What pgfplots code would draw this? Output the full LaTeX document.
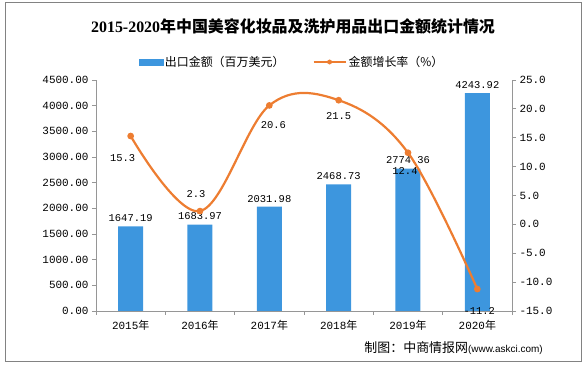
\documentclass[border=0pt]{standalone}
\usepackage{pgfplots}
\pgfplotsset{compat=1.18}
\usepackage{fontspec}
\setmainfont{Liberation Mono}
\newfontfamily\cjk{Noto Sans CJK SC}
\newfontfamily\sans{Liberation Sans}
\newfontfamily\serif{Liberation Serif}
\definecolor{barblue}{RGB}{61,150,222}
\definecolor{lineorange}{RGB}{237,125,49}
\definecolor{axgray}{RGB}{150,150,150}
\definecolor{bordergray}{RGB}{130,130,130}
\pgfkeys{/pgf/number format/assume math mode=true}

\pgfplotstableread{
x y dx dy
0 15.3 -8 -22
1 2.3 -4 17
2 20.6 4 -20
3 21.5 0 -16
4 12.4 -3 -18
5 -11.2 2 -22
}\ratedata

\begin{document}
\begin{tikzpicture}
\path (0bp,0bp) rectangle (587bp,369bp);
\draw[bordergray, line width=1bp] (5bp,7bp) rectangle (581bp,366bp);
\node[font=\fontsize{16}{19}\selectfont\bfseries] at (293bp,343bp) {{\serif 2015-2020}{\cjk 年中国美容化妆品及洗护用品出口金额统计情况}};
\node[anchor=east, inner sep=0pt] at (543bp,21bp) {{\cjk\fontsize{13}{15}\selectfont 制图：中商情报网}{\sans\fontsize{10}{12}\selectfont(www.askci.com)}};
\begin{axis}[
  at={(96bp,58bp)}, anchor=south west, scale only axis,
  width=416bp, height=231bp,
  xmin=-0.5, xmax=5.5, ymin=0, ymax=4500,
  axis x line*=bottom, axis y line*=left,
  axis line style={axgray, line width=0.8bp, -},
  tick style={axgray, line width=0.8bp},
  tick align=outside, major tick length=4bp,
  xtick={-0.5,0.5,...,5.5},
  xticklabels={{2015{\cjk 年}},{2016{\cjk 年}},{2017{\cjk 年}},{2018{\cjk 年}},{2019{\cjk 年}},{2020{\cjk 年}},{}},
  xticklabel style={xshift=34.67bp, yshift=-2bp, font=\fontsize{11}{13}\selectfont},
  ytick={0,500,...,4500},
  yticklabel style={font=\fontsize{11}{13}\selectfont, /pgf/number format/.cd, fixed, fixed zerofill, precision=2, 1000 sep={}},
  scaled y ticks=false,
  legend style={at={(0.471,1.078)}, anchor=center, draw=none, fill=none, legend columns=2,
    font=\fontsize{12}{14}\selectfont, /tikz/every even column/.append style={column sep=26bp}},
]
\addplot[ybar, bar width=25bp, fill=barblue, draw=none, forget plot,
  nodes near coords={\pgfmathprintnumber[fixed,fixed zerofill,precision=2,1000 sep={}]{\pgfplotspointmeta}},
  every node near coord/.append style={font=\fontsize{10.5}{12}\selectfont, text=black, anchor=south, yshift=1bp}]
  coordinates {(0,1647.19) (1,1683.97) (2,2031.98) (3,2468.73) (4,2774.36) (5,4243.92)};
\addlegendimage{legend image code/.code={\fill[barblue] (0bp,-3bp) rectangle (24bp,3bp);}}
\addlegendentry{\cjk 出口金额（百万美元）}
\addlegendimage{legend image code/.code={\draw[lineorange,line width=2.2bp] (0bp,0bp)--(32bp,0bp); \fill[lineorange] (16bp,0bp) circle (2.2bp);}}
\addlegendentry{\cjk 金额增长率（\%）}
\end{axis}
\begin{axis}[
  at={(96bp,58bp)}, anchor=south west, scale only axis,
  width=416bp, height=231bp,
  xmin=-0.5, xmax=5.5, ymin=-15, ymax=25,
  axis y line*=right, axis x line=none,
  axis line style={axgray, line width=0.8bp, -},
  tick style={axgray, line width=0.8bp},
  tick align=outside, major tick length=4bp,
  ytick={-15,-10,...,25},
  yticklabel style={font=\fontsize{11}{13}\selectfont, /pgf/number format/.cd, fixed, fixed zerofill, precision=1},
]
\addplot[lineorange, line width=2.2bp, smooth, tension=0.6, mark=*, mark size=2.2bp,
  mark options={fill=lineorange, draw=lineorange},
  visualization depends on={\thisrow{dx} \as \dx},
  visualization depends on={\thisrow{dy} \as \dy},
  nodes near coords={\pgfmathprintnumber[fixed,fixed zerofill,precision=1]{\pgfplotspointmeta}},
  every node near coord/.append style={font=\fontsize{10.5}{12}\selectfont, text=black, anchor=center, xshift=\dx bp, yshift=\dy bp}]
  table[x=x, y=y] {\ratedata};
\end{axis}
\end{tikzpicture}
\end{document}
